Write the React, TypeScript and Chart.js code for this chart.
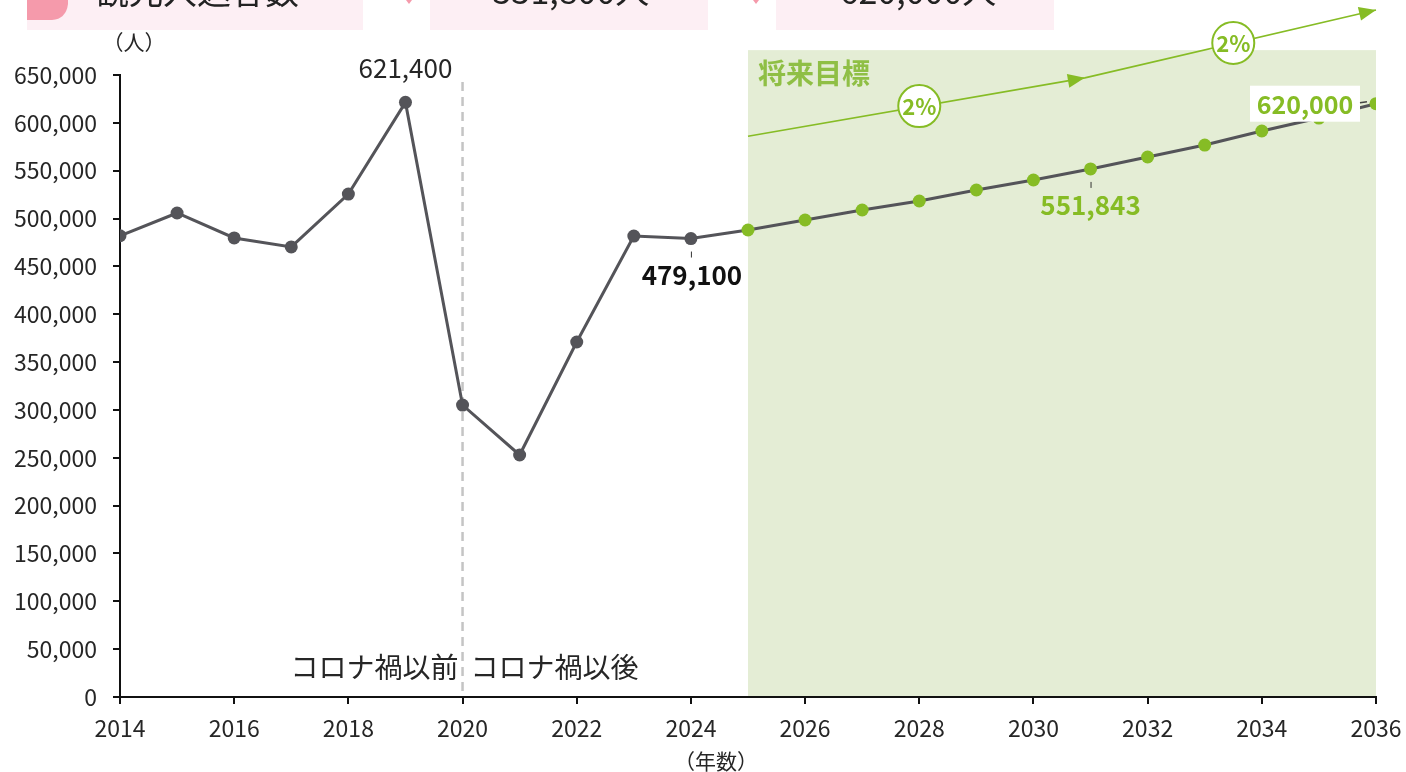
import React, { useEffect, useRef } from "react";
import { Chart, registerables } from "chart.js";

Chart.register(...registerables);

const FONT = '"Noto Sans CJK JP", "Noto Sans", sans-serif';

// ---- data ----
const years = [2014, 2015, 2016, 2017, 2018, 2019, 2020, 2021, 2022, 2023, 2024, 2025, 2026, 2027, 2028, 2029, 2030, 2031, 2032, 2033, 2034, 2035, 2036];
const visitors = [482000, 505800, 479700, 470300, 525600, 621400, 305100, 252900, 371000, 481700, 479100, 488000, 498500, 508900, 518300, 529800, 540300, 551843, 564300, 576800, 591500, 605000, 620000];
const firstTargetIndex = 11;

const xMin = 2014;
const xMax = 2036;
const xStep = 2;
const yMax = 650000;
const yStep = 50000;

const targetRange = [2025, 2036];
const targetRegionTop = 676000;
const coronaYear = 2020;
const coronaLineTop = 642700;

const beforeLabel = "コロナ禍以前";
const afterLabel = "コロナ禍以後";
const targetLabel = "将来目標";
const yTitle = "（人）";
const xTitle = "（年数）";

// arrow path (data coordinates) and growth markers
const arrowPath = [
  [2025, 586000],
  [2030.9, 647000],
  [2036, 718000],
];
const growthMarkers = [
  [2028, 617500],
  [2033.5, 683500],
];
const growthText = "2%";

// annotated points
const labelIdx = { peak: 5, latest: 10, mid: 17, goal: 22 };

// header boxes (cut off at the top of the page)
const headerTexts = ["観光入込客数", "551,800人", "620,000人"];

const fmt = (v: number) => v.toLocaleString("en-US");

const DARK = "#545459";
const GREEN = "#86bc25";

function arrowHead(ctx: CanvasRenderingContext2D, fx: number, fy: number, tx: number, ty: number, len: number, w: number) {
  const a = Math.atan2(ty - fy, tx - fx);
  ctx.beginPath();
  ctx.moveTo(tx, ty);
  ctx.lineTo(tx - len * Math.cos(a) + (w / 2) * Math.sin(a), ty - len * Math.sin(a) - (w / 2) * Math.cos(a));
  ctx.lineTo(tx - len * Math.cos(a) - (w / 2) * Math.sin(a), ty - len * Math.sin(a) + (w / 2) * Math.cos(a));
  ctx.closePath();
  ctx.fill();
}

const decor = {
  id: "decor",
  beforeDraw(chart: any) {
    const { ctx, scales } = chart;
    const x = scales.x, y = scales.y;
    ctx.save();
    const x0 = x.getPixelForValue(targetRange[0]);
    const x1 = x.getPixelForValue(targetRange[1]);
    const yt = y.getPixelForValue(targetRegionTop);
    const yb = y.getPixelForValue(0);
    ctx.fillStyle = "#e4edd5";
    ctx.fillRect(x0, yt, x1 - x0, yb - yt);
    ctx.restore();
  },
  beforeDatasetsDraw(chart: any) {
    const { ctx, scales } = chart;
    const x = scales.x, y = scales.y;
    ctx.save();
    // corona dashed line
    const cx = x.getPixelForValue(coronaYear);
    ctx.strokeStyle = "#c4c4c4";
    ctx.lineWidth = 2.5;
    ctx.setLineDash([9, 6]);
    ctx.beginPath();
    ctx.moveTo(cx, y.getPixelForValue(coronaLineTop));
    ctx.lineTo(cx, y.getPixelForValue(0));
    ctx.stroke();
    ctx.setLineDash([]);

    ctx.fillStyle = "#262626";
    ctx.font = `28px ${FONT}`;
    ctx.textBaseline = "middle";
    ctx.textAlign = "right";
    ctx.fillText(beforeLabel, cx - 4, 667);
    ctx.textAlign = "left";
    ctx.fillText(afterLabel, cx + 8, 667);

    // target label
    ctx.fillStyle = "#8fbf45";
    ctx.font = `bold 28px ${FONT}`;
    ctx.textAlign = "left";
    ctx.fillText(targetLabel, x.getPixelForValue(targetRange[0]) + 10, 73);

    // growth arrow
    ctx.strokeStyle = GREEN;
    ctx.fillStyle = GREEN;
    ctx.lineWidth = 1.6;
    const pts = arrowPath.map(([a, b]) => [x.getPixelForValue(a), y.getPixelForValue(b)]);
    ctx.beginPath();
    ctx.moveTo(pts[0][0], pts[0][1]);
    for (let i = 1; i < pts.length; i++) ctx.lineTo(pts[i][0], pts[i][1]);
    ctx.stroke();
    for (let i = 1; i < pts.length; i++) {
      arrowHead(ctx, pts[i - 1][0], pts[i - 1][1], pts[i][0], pts[i][1], 17, 14);
    }
    // markers
    growthMarkers.forEach(([a, b]) => {
      const px = x.getPixelForValue(a), py = y.getPixelForValue(b);
      ctx.beginPath();
      ctx.arc(px, py, 21, 0, Math.PI * 2);
      ctx.fillStyle = "#ffffff";
      ctx.fill();
      ctx.lineWidth = 2;
      ctx.strokeStyle = GREEN;
      ctx.stroke();
      ctx.fillStyle = GREEN;
      ctx.font = `bold 22px ${FONT}`;
      ctx.textAlign = "center";
      ctx.textBaseline = "middle";
      ctx.fillText(growthText, px, py + 1);
    });
    ctx.restore();
  },
  afterDatasetsDraw(chart: any) {
    const { ctx, scales } = chart;
    const x = scales.x, y = scales.y;
    const P = (i: number) => [x.getPixelForValue(years[i]), y.getPixelForValue(visitors[i])];
    ctx.save();
    ctx.textAlign = "center";
    ctx.textBaseline = "middle";

    // peak
    let [px, py] = P(labelIdx.peak);
    ctx.fillStyle = "#262626";
    ctx.font = `26px ${FONT}`;
    ctx.fillText(fmt(visitors[labelIdx.peak]), px, py - 34);

    // latest
    [px, py] = P(labelIdx.latest);
    ctx.strokeStyle = "#333";
    ctx.lineWidth = 1;
    ctx.beginPath();
    ctx.moveTo(px + 0.5, py + 13);
    ctx.lineTo(px + 0.5, py + 19);
    ctx.stroke();
    ctx.fillStyle = "#111";
    ctx.font = `bold 26px ${FONT}`;
    ctx.fillText(fmt(visitors[labelIdx.latest]), px + 1, py + 37);

    // mid target
    [px, py] = P(labelIdx.mid);
    ctx.beginPath();
    ctx.moveTo(px + 0.5, py + 13);
    ctx.lineTo(px + 0.5, py + 19);
    ctx.stroke();
    ctx.fillStyle = GREEN;
    ctx.fillText(fmt(visitors[labelIdx.mid]), px, py + 36);

    // goal
    [px, py] = P(labelIdx.goal);
    ctx.fillStyle = "#ffffff";
    ctx.fillRect(px - 126, py - 18, 110, 36);
    ctx.strokeStyle = "#444";
    ctx.lineWidth = 1.5;
    ctx.beginPath();
    ctx.moveTo(px - 16, py - 1);
    ctx.lineTo(px - 9, py - 2);
    ctx.stroke();
    ctx.fillStyle = GREEN;
    ctx.font = `bold 25px ${FONT}`;
    ctx.fillText(fmt(visitors[labelIdx.goal]), px - 71, py + 1);
    ctx.restore();
  },
  afterDraw(chart: any) {
    const { ctx } = chart;
    ctx.save();
    // header boxes
    ctx.fillStyle = "#fdeff4";
    ctx.fillRect(27, 0, 336, 30);
    ctx.fillRect(430, 0, 278, 30);
    ctx.fillRect(776, 0, 278, 30);
    ctx.fillStyle = "#f59aab";
    ctx.beginPath();
    ctx.moveTo(27, 0);
    ctx.lineTo(68, 0);
    ctx.lineTo(68, 4);
    ctx.quadraticCurveTo(66, 19, 52, 20);
    ctx.lineTo(27, 20);
    ctx.closePath();
    ctx.fill();
    [410, 757].forEach((tx) => {
      ctx.beginPath();
      ctx.moveTo(tx - 4, 0);
      ctx.lineTo(tx + 2, 0);
      ctx.lineTo(tx - 1, 4);
      ctx.closePath();
      ctx.fill();
    });
    ctx.fillStyle = "#222";
    ctx.font = `34px ${FONT}`;
    ctx.textAlign = "center";
    ctx.textBaseline = "alphabetic";
    ctx.fillText(headerTexts[0], 197, 4);
    ctx.fillText(headerTexts[1], 571, 4);
    ctx.fillText(headerTexts[2], 918, 4);

    // axis titles
    ctx.fillStyle = "#262626";
    ctx.font = `21px ${FONT}`;
    ctx.textBaseline = "middle";
    ctx.fillText(yTitle, 134, 42);
    ctx.fillText(xTitle, 716, 761);
    ctx.restore();
  },
};

export default function App() {
  const ref = useRef<HTMLCanvasElement | null>(null);
  useEffect(() => {
    if (!ref.current) return;
    const pointColors = visitors.map((_, i) => (i >= firstTargetIndex ? GREEN : DARK));
    const chart = new Chart(ref.current, {
      type: "line",
      data: {
        datasets: [
          {
            data: years.map((yr, i) => ({ x: yr, y: visitors[i] })),
            borderColor: DARK,
            borderWidth: 3,
            pointRadius: 6.5,
            pointBackgroundColor: pointColors,
            pointBorderColor: pointColors,
            pointBorderWidth: 0,
            tension: 0,
          },
        ],
      },
      options: {
        responsive: false,
        animation: false,
        layout: { padding: { top: 75, right: 30, left: 0, bottom: 0 } },
        plugins: { legend: { display: false }, tooltip: { enabled: false }, title: { display: false } },
        scales: {
          x: {
            type: "linear",
            min: xMin,
            max: xMax,
            afterFit: (s: any) => {
              s.height = 75;
              s.paddingLeft = 0;
              s.paddingRight = 0;
            },
            ticks: {
              stepSize: xStep,
              padding: 10,
              color: "#262626",
              font: { family: FONT, size: 23 },
              callback: (v: any) => String(v),
              maxRotation: 0,
            },
            grid: { drawOnChartArea: false, drawTicks: true, tickLength: 7, color: "#111", lineWidth: 2 },
            border: { color: "#111", width: 2 },
          },
          y: {
            min: 0,
            max: yMax,
            afterFit: (s: any) => {
              s.width = 120;
              s.paddingTop = 0;
              s.paddingBottom = 0;
            },
            ticks: {
              stepSize: yStep,
              padding: 16,
              color: "#262626",
              font: { family: FONT, size: 23 },
              callback: (v: any) => fmt(Number(v)),
            },
            grid: { drawOnChartArea: false, drawTicks: true, tickLength: 7, color: "#111", lineWidth: 2 },
            border: { color: "#111", width: 2 },
          },
        },
      },
      plugins: [decor],
    });
    return () => chart.destroy();
  }, []);
  return (
    <div style={{ position: "fixed", left: 0, top: 0, width: 1406, height: 772, background: "#fff" }}>
      <canvas ref={ref} width={1406} height={772} style={{ display: "block", width: 1406, height: 772 }} />
    </div>
  );
}
